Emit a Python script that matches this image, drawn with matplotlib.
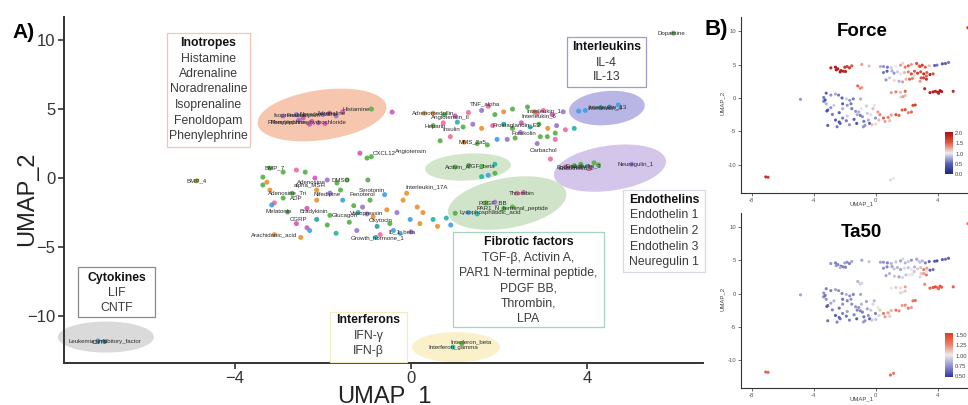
import matplotlib
matplotlib.use('Agg')
import matplotlib.pyplot as plt
import numpy as np
from matplotlib.patches import Polygon, Rectangle
from matplotlib.colors import LinearSegmentedColormap, Normalize

plt.rcParams['font.family'] = ['Liberation Sans', 'DejaVu Sans']

# ---------------- data (UMAP coordinates) ----------------
ino_x = [-2.9, -2.6, -2.45, -2.25, -2.1, -2.0, -1.85, -1.7, -1.55, -2.3, -1.95, -2.55, -0.9, -0.43]
ino_y = [4.5, 4.6, 4.35, 4.1, 4.0, 4.6, 4.7, 4.5, 4.8, 3.9, 3.95, 4.2, 5.0, 4.78]
ino_col = "vvmmmvmvmmmvgm"
ino_force = [1.9, 2.0, 1.95, 1.85, 1.9, 1.8, 1.7, 1.75, 1.6, 2.0, 1.9, 1.95, 1.3, 1.2]
ino_ta50 = [0.75, 0.7, 0.7, 0.65, 0.7, 0.8, 0.75, 0.7, 0.8, 0.85, 0.7, 0.75, 0.8, 0.9]

ur_x = [0.3, 0.5, 0.75, 1.0, 1.3, 1.6, 1.75, 1.9, 2.1, 2.3, 2.64, 2.8, 3.0, 3.2, 3.45, 2.86,
        0.5, 0.73, 1.05, 1.18, 1.4, 1.6, 1.85, 2.1, 2.3, 2.5, 2.7, 2.9, 3.1, 3.3, 3.5, 3.7,
        0.66, 0.89, 1.2, 1.5, 1.73, 1.95, 2.18, 2.36, 2.48, 2.93, 3.09, 3.27, 3.27, 2.86, 3.16]
ur_y = [4.7, 4.7, 4.6, 4.5, 4.75, 4.9, 5.2, 4.6, 4.8, 5.0, 5.15, 4.8, 4.9, 4.6, 4.8, 4.7,
        3.8, 4.0, 4.05, 3.7, 3.9, 3.6, 3.8, 3.9, 3.6, 4.0, 3.7, 3.9, 3.6, 3.8, 3.5, 3.6,
        2.7, 3.0, 2.6, 2.5, 2.4, 2.8, 2.8, 2.9, 3.3, 3.0, 3.0, 2.8, 3.26, 2.5, 1.38]
ur_col = "oogmpvpgoggopmvp" + "gpcgvoptgmcgovpc" + "gpoggbvgvggpgvp"
ur_force = [0.8, 0.7, 0.6, 0.9, 1.0, 1.3, 1.1, 1.4, 1.5, 1.3, 1.6, 1.4, 1.7, 1.5, 1.2, 1.6,
            0.6, 0.5, 0.8, 0.7, 0.9, 1.0, 1.2, 1.4, 1.6, 1.5, 1.7, 1.6, 1.8, 1.5, 1.9, 1.6,
            0.7, 0.9, 1.1, 0.8, 1.3, 1.2, 1.5, 1.4, 1.1, 1.6, 1.7, 1.8, 1.5, 1.3, 1.9]
ur_ta50 = [0.8, 0.75, 0.7, 0.85, 0.9, 0.8, 0.95, 0.85, 0.9, 0.75, 0.8, 0.9, 0.85, 0.7, 0.6, 0.9,
           0.75, 0.7, 0.8, 0.9, 0.85, 0.8, 0.95, 0.9, 1.0, 0.85, 1.1, 0.9, 1.3, 1.2, 0.6, 0.65,
           0.8, 0.85, 0.9, 0.8, 0.95, 0.9, 1.0, 1.05, 0.9, 1.1, 1.2, 1.3, 1.0, 0.95, 1.25]

il_x = [3.8, 3.95, 4.3, 4.5, 4.7]
il_y = [4.85, 4.9, 5.1, 5.15, 5.3]
il_col = "bbcbb"
il_force = [0.5, 0.6, 0.4, 0.5, 0.6]
il_ta50 = [0.6, 0.55, 0.6, 0.65, 0.6]

dop_x = [5.95]
dop_y = [10.5]
dop_col = "g"
dop_force = [1.8]
dop_ta50 = [1.3]

act_x = [1.0, 1.3, 1.6, 1.9, 1.6, 1.75, 1.9]
act_y = [0.8, 0.9, 0.85, 1.0, 0.1, 0.2, 0.35]
act_col = "gggccbg"
act_force = [1.3, 1.4, 1.2, 1.5, 1.1, 1.3, 1.2]
act_ta50 = [1.0, 1.1, 1.05, 1.2, 0.95, 1.0, 1.1]

endo_x = [3.5, 3.7, 3.85, 4.0, 4.15, 4.05, 4.25, 5.0]
endo_y = [0.8, 0.9, 1.0, 0.85, 1.1, 0.7, 0.95, 1.0]
endo_col = "mggcgpgv"
endo_force = [1.95, 2.0, 1.9, 2.0, 1.95, 1.9, 2.0, 1.85]
endo_ta50 = [1.4, 1.45, 1.5, 1.4, 1.45, 1.35, 1.4, 1.4]

fib_x = [2.4, 2.55, 1.7, 1.9, 2.1, 2.3, 1.3, 1.5, 1.0, 0.8, 0.9, 0.5, 0.6]
fib_y = [-1.1, -1.05, -1.8, -1.75, -2.2, -2.1, -2.5, -2.6, -2.55, -2.9, -3.4, -3.0, -3.5]
fib_col = "pmgvggbcgcbco"
fib_force = [1.6, 1.7, 1.5, 1.6, 1.4, 1.5, 1.6, 1.5, 1.3, 1.4, 1.2, 1.5, 1.3]
fib_ta50 = [1.3, 1.35, 1.2, 1.25, 1.3, 1.2, 1.3, 1.25, 1.15, 1.2, 1.1, 1.3, 1.2]

left_x = [-3.36, -3.2, -3.1, -3.16, -2.9, -2.8, -2.7, -2.36, -2.14, -2.14, -2.36, -2.3, -1.7, -1.84, -1.55,
          -1.4, -1.23, -1.1, -0.93, -0.86, -0.77, -0.55, -0.48, -0.4, -0.32, -0.18, -0.02, 0.14, 0.2, 0.27,
          -3.2, -3.36, -3.27, -2.9, -2.6, -2.4, -2.18, -1.9, -1.68, -1.45, -0.98, -2.14, -1.84, -1.6,
          -3.1, -2.5, -0.8, -0.25, -1.16, -1.0, -0.9,
          -1.0, -1.3, -0.6, -0.1, -2.6, -1.9, -1.2, -0.7, 0.0]
left_y = [-0.5, -0.87, -1.8, -1.95, -1.45, -2.46, -1.1, -2.2, -1.6, -3.0, -3.6, -3.8, -4.0, -2.7, -1.6,
          -3.2, -3.8, -2.1, -1.6, -2.8, -3.5, -2.3, -3.3, -3.8, -2.5, -1.6, -3.0, -2.1, -3.3, -2.5,
          0.72, 0.07, -0.3, 0.43, 0.58, 0.43, 0.0, -0.14, -0.36, -0.14, -0.14, -0.87, -1.09, -0.87,
          -4.1, -4.3, -4.3, -4.0, 1.8, 1.45, 1.55,
          -2.6, -2.0, -1.2, -1.1, -3.3, -3.4, -2.5, -4.1, -3.9]
left_col = "gopbgggmotmbcgbgvvgotogbvobooo" + "ggogpgmvgggovg" + "oocbmgg" + "vgbomgcpv"
left_force = [0.6, 0.8, 0.5, 0.4, 0.7, 0.6, 0.9, 0.5, 0.8, 0.6, 0.4, 0.5, 0.7, 0.9, 0.6,
              0.5, 0.4, 0.8, 1.0, 0.7, 0.6, 0.9, 0.8, 0.5, 1.1, 1.2, 0.7, 1.3, 1.2, 1.4,
              0.5, 0.6, 0.4, 0.7, 0.8, 0.6, 0.5, 0.9, 0.7, 0.6, 0.8, 0.5, 0.7, 0.6,
              0.5, 0.6, 0.7, 1.2, 1.5, 1.4, 1.3,
              0.6, 0.7, 0.9, 1.0, 0.5, 0.6, 0.8, 0.7, 1.1]
left_ta50 = [0.7, 0.75, 0.65, 0.6, 0.8, 0.7, 0.85, 0.65, 0.75, 0.7, 0.6, 0.65, 0.7, 0.8, 0.75,
             0.7, 0.6, 0.75, 0.85, 0.7, 0.65, 0.8, 0.75, 0.6, 0.9, 0.95, 0.7, 1.0, 0.95, 1.1,
             0.7, 0.75, 0.65, 0.7, 0.8, 0.75, 0.7, 0.85, 0.75, 0.7, 0.8, 0.65, 0.7, 0.75,
             0.65, 0.7, 0.8, 0.9, 0.85, 0.9, 0.95,
             0.7, 0.75, 0.8, 0.85, 0.6, 0.65, 0.7, 0.75, 0.9]

bmp_x = [-4.86]
bmp_y = [-0.2]
bmp_col = "y"
bmp_force = [0.7]
bmp_ta50 = [0.8]

cyto_x = [-7.1, -6.95]
cyto_y = [-11.8, -11.85]
cyto_col = "bc"
cyto_force = [1.8, 1.7]
cyto_ta50 = [1.4, 1.35]

ifn_x = [0.95, 1.15]
ifn_y = [-12.25, -12.0]
ifn_col = "cg"
ifn_force = [1.1, 1.0]
ifn_ta50 = [1.35, 1.3]

lab_text = ["Isoprenaline", "Fenoldopam", "Noradrenaline", "Adrenaline", "Phenylephrine",
            "Phenylephrine_hydrochloride", "Histamine", "Adrenomedullin", "Angiotensin_II", "TNF_alpha",
            "Heparin", "Insulin", "MMS_2a5", "Prostaglandin_E2", "Interleukin_6", "Interleukin_1",
            "Forskolin", "Carbachol", "CXCL12", "Angiotensin", "Interleukin_4", "Interleukin_13",
            "Dopamine", "Activin_A", "TGF_beta", "Endothelin_1", "Endothelin_2", "Endothelin_3",
            "Neuregulin_1", "Thrombin", "PDGF_BB", "PAR1_N_terminal_peptide", "Lysophosphatidic_acid",
            "Interleukin_17A", "BMP_4", "BMP_7", "Adenosine", "alpha_MSH", "DMSO", "Adenosine_Tri",
            "ADP", "Nifedipine", "Serotonin", "Fenoterol", "Melatonin", "Bradykinin", "CGRP",
            "Glucagon", "Vasopressin", "Oxytocin", "Arachidonic_acid", "Growth_hormone_1", "IL_1_beta",
            "Leukemia_inhibitory_factor", "CNTF", "Interferon_beta", "Interferon_gamma"]
lab_x = [-2.75, -2.45, -2.1, -1.8, -2.75, -2.35, -1.25, 0.5, 0.9, 1.68,
         0.55, 0.9, 1.4, 2.4, 2.9, 3.0, 2.55, 3.0, -0.6, 0.0, 4.4, 4.45,
         5.9, 1.05, 1.6, 3.7, 3.75, 3.9, 5.1, 2.5, 1.85, 2.3, 1.8,
         0.35, -4.86, -3.1, -2.25, -2.3, -1.6, -2.8, -2.6, -1.9, -0.9, -1.1, -3.0, -2.2, -2.55,
         -1.5, -1.0, -0.7, -3.1, -0.75, -0.2, -6.95, -7.05, 1.35, 0.95]
lab_y = [4.5, 4.55, 4.6, 4.7, 4.0, 4.05, 5.0, 4.7, 4.4, 5.35,
         3.7, 3.5, 2.6, 3.8, 4.5, 4.9, 3.25, 2.0, 1.8, 1.9, 5.1, 5.15,
         10.5, 0.8, 0.87, 0.8, 0.75, 0.9, 0.95, -1.1, -1.8, -2.2, -2.5,
         -0.65, -0.2, 0.72, -0.3, -0.55, -0.15, -1.05, -1.45, -1.2, -0.87, -1.2, -2.45, -2.4, -3.0,
         -2.7, -2.6, -3.1, -4.1, -4.3, -3.9, -11.85, -11.95, -11.9, -12.3]

groups = [
    (ino_x, ino_y, ino_col, ino_force, ino_ta50),
    (ur_x, ur_y, ur_col, ur_force, ur_ta50),
    (il_x, il_y, il_col, il_force, il_ta50),
    (dop_x, dop_y, dop_col, dop_force, dop_ta50),
    (act_x, act_y, act_col, act_force, act_ta50),
    (endo_x, endo_y, endo_col, endo_force, endo_ta50),
    (fib_x, fib_y, fib_col, fib_force, fib_ta50),
    (left_x, left_y, left_col, left_force, left_ta50),
    (bmp_x, bmp_y, bmp_col, bmp_force, bmp_ta50),
    (cyto_x, cyto_y, cyto_col, cyto_force, cyto_ta50),
    (ifn_x, ifn_y, ifn_col, ifn_force, ifn_ta50),
]

PAL = {'g': '#52b043', 'o': '#e8912e', 'm': '#d653b5', 'v': '#9b72d3', 'b': '#3d9ee3',
       'c': '#22b3a6', 'p': '#f06a9a', 't': '#2aa198', 'y': '#a39a1f'}

all_x = np.concatenate([np.array(g[0], float) for g in groups])
all_y = np.concatenate([np.array(g[1], float) for g in groups])
all_c = [PAL[ch] for g in groups for ch in g[2]]
all_f = np.concatenate([np.array(g[3], float) for g in groups])
all_t = np.concatenate([np.array(g[4], float) for g in groups])

# ---------------- figure ----------------
W, H = 968, 405
fig = plt.figure(figsize=(W / 100, H / 100), dpi=100)


def fx(px):
    return px / W


def fy(py):
    return 1 - py / H


# ---------------- panel A ----------------
axA = fig.add_axes([fx(64), fy(363), fx(703) - fx(64), fy(17) - fy(363)])
axA.set_xlim(-7.87, 6.62)
axA.set_ylim(-13.4, 11.67)
for s in ['top', 'right']:
    axA.spines[s].set_visible(False)
for s in ['left', 'bottom']:
    axA.spines[s].set_linewidth(1.4)
    axA.spines[s].set_color('#333333')
axA.set_xticks([-4, 0, 4])
axA.set_yticks([-10, -5, 0, 5, 10])
axA.set_xticklabels(['\u22124', '0', '4'])
axA.set_yticklabels(['\u221210', '\u22125', '0', '5', '10'])
axA.tick_params(labelsize=12, colors='#333333', length=4, width=1.2, pad=2)

SX, SY = 44.1, 13.8


def ell(ax, cx, cy, wpx, hpx, ang, color):
    t = np.linspace(0, 2 * np.pi, 120)
    u = wpx / 2 * np.cos(t)
    v = hpx / 2 * np.sin(t)
    a = np.deg2rad(ang)
    ur = u * np.cos(a) - v * np.sin(a)
    vr = u * np.sin(a) + v * np.cos(a)
    ax.add_patch(Polygon(np.c_[cx + ur / SX, cy + vr / SY], closed=True, fc=color, ec='none',
                         zorder=1, clip_on=False))


ell(axA, -2.02, 4.57, 130, 50, 8, '#f6c7ae')
ell(axA, 4.44, 5.07, 76, 34, 5, '#b9b6e6')
ell(axA, 1.29, 0.80, 86, 27, 3, '#d3e6cc')
ell(axA, 4.51, 0.72, 113, 45, 8, '#d4c5ea')
ell(axA, 2.18, -1.81, 120, 50, 10, '#d0e4c9')
ell(axA, -6.92, -11.52, 96, 31, 0, '#dadada')
ell(axA, 1.02, -12.25, 88, 30, 0, '#faf0c9')

axA.scatter(all_x, all_y, c=all_c, s=13, linewidths=0, alpha=0.9, zorder=2)
for t, x, y in zip(lab_text, lab_x, lab_y):
    axA.text(x, y, t, fontsize=4.4, color='#2a2a2a', ha='center', va='center', zorder=3, clip_on=False)

fig.text(fx(24), fy(33), 'A)', fontsize=15, fontweight='bold', ha='center', va='center')
fig.text(fx(27), fy(199), 'UMAP_2', fontsize=17, rotation=90, ha='center', va='center', color='#222222')
fig.text(fx(384), fy(386), 'UMAP_1', fontsize=17, ha='center', va='top', color='#222222')


# ---------------- text boxes ----------------
def box(x0, y0, x1, y1, ec, title, lines, ty, step=15.5):
    fig.add_artist(Rectangle((fx(x0), fy(y1)), fx(x1) - fx(x0), fy(y0) - fy(y1),
                             transform=fig.transFigure, fc='white', ec=ec, lw=0.9, zorder=4))
    cx = (x0 + x1) / 2
    fig.text(fx(cx), fy(ty), title, fontsize=8.8, fontweight='bold', ha='center', va='center',
             color='#111111', zorder=5)
    for i, ln in enumerate(lines):
        fig.text(fx(cx), fy(ty + step * (i + 1)), ln, fontsize=8.8, ha='center', va='center',
                 color='#3a3a3a', zorder=5)


box(167, 33, 250, 147, '#f3c3b3', 'Inotropes',
    ['Histamine', 'Adrenaline', 'Noradrenaline', 'Isoprenaline', 'Fenoldopam', 'Phenylephrine'], 43)
box(567, 37, 646, 87, '#9d9acd', 'Interleukins', ['IL-4', 'IL-13'], 47.5, 15)
box(623, 190, 705, 272, '#d9d9e2', 'Endothelins',
    ['Endothelin 1', 'Endothelin 2', 'Endothelin 3', 'Neuregulin 1'], 200, 15.5)
box(453, 232, 604, 327, '#a5d4bd', 'Fibrotic factors',
    ['TGF-\u03b2, Activin A,', 'PAR1 N-terminal peptide,', 'PDGF BB,', 'Thrombin,', 'LPA'], 242, 15.5)
box(330, 312, 407, 362, '#f4edc2', 'Interferons', ['IFN-\u03b3', 'IFN-\u03b2'], 320, 15.5)
box(78, 267, 155, 317, '#8a8a8a', 'Cytokines', ['LIF', 'CNTF'], 278, 15)

# ---------------- panel B ----------------
cmapF = LinearSegmentedColormap.from_list('force', ['#1a2580', '#5a63b8', '#efedf2', '#e4563f', '#a80f18'])
cmapT = LinearSegmentedColormap.from_list('ta50', ['#3436a2', '#9091cd', '#ececec', '#ef7a62', '#e53a22'])


def bpanel(top, bottom, vals, cmap, vmin, vmax, title, title_y, cb_top, cb_bot, cb_ticks, cb_labels):
    ax = fig.add_axes([fx(741), fy(bottom), fx(978) - fx(741), fy(top) - fy(bottom)])
    ax.set_xlim(-8.7, 6.6)
    ax.set_ylim(-14.2, 12.1)
    for s in ['top', 'right']:
        ax.spines[s].set_visible(False)
    for s in ['left', 'bottom']:
        ax.spines[s].set_linewidth(0.8)
        ax.spines[s].set_color('#333333')
    ax.set_xticks([-8, -4, 0, 4])
    ax.set_yticks([-10, -5, 0, 5, 10])
    ax.set_xticklabels(['-8', '-4', '0', '4'])
    ax.set_yticklabels(['-10', '-5', '0', '5', '10'])
    ax.tick_params(labelsize=4.2, colors='#555555', length=2, width=0.6, pad=1.5)
    sc = ax.scatter(all_x, all_y, c=vals, cmap=cmap, norm=Normalize(vmin, vmax), s=5,
                    linewidths=0, zorder=2)
    ax.text(0.51, title_y, title, transform=ax.transAxes, fontsize=13.5, fontweight='bold',
            ha='center', va='center')
    fig.text(fx(722), fy((top + bottom) / 2 - 2), 'UMAP_2', fontsize=4.3, rotation=90,
             ha='center', va='center', color='#444444')
    fig.text(fx(862), fy(bottom + 11), 'UMAP_1', fontsize=4.3, ha='center', va='center', color='#444444')
    cax = fig.add_axes([fx(945), fy(cb_bot), fx(953) - fx(945), fy(cb_top) - fy(cb_bot)])
    cb = fig.colorbar(sc, cax=cax)
    cb.outline.set_visible(False)
    cb.set_ticks(cb_ticks)
    cb.set_ticklabels(cb_labels)
    cax.tick_params(labelsize=4.2, length=0, pad=1.5, colors='#444444')
    return ax


bpanel(17, 193, all_f, cmapF, 0.0, 2.05, 'Force', 0.915, 132, 174,
       [0.0, 0.5, 1.0, 1.5, 2.0], ['0.0', '0.5', '1.0', '1.5', '2.0'])
bpanel(213, 388, all_t, cmapT, 0.48, 1.55, 'Ta50', 0.886, 333, 377,
       [0.5, 0.75, 1.0, 1.25, 1.5], ['0.50', '0.75', '1.00', '1.25', '1.50'])

fig.text(fx(716), fy(29), 'B)', fontsize=16, fontweight='bold', ha='center', va='center')

fig.savefig('out.png', dpi=100)
